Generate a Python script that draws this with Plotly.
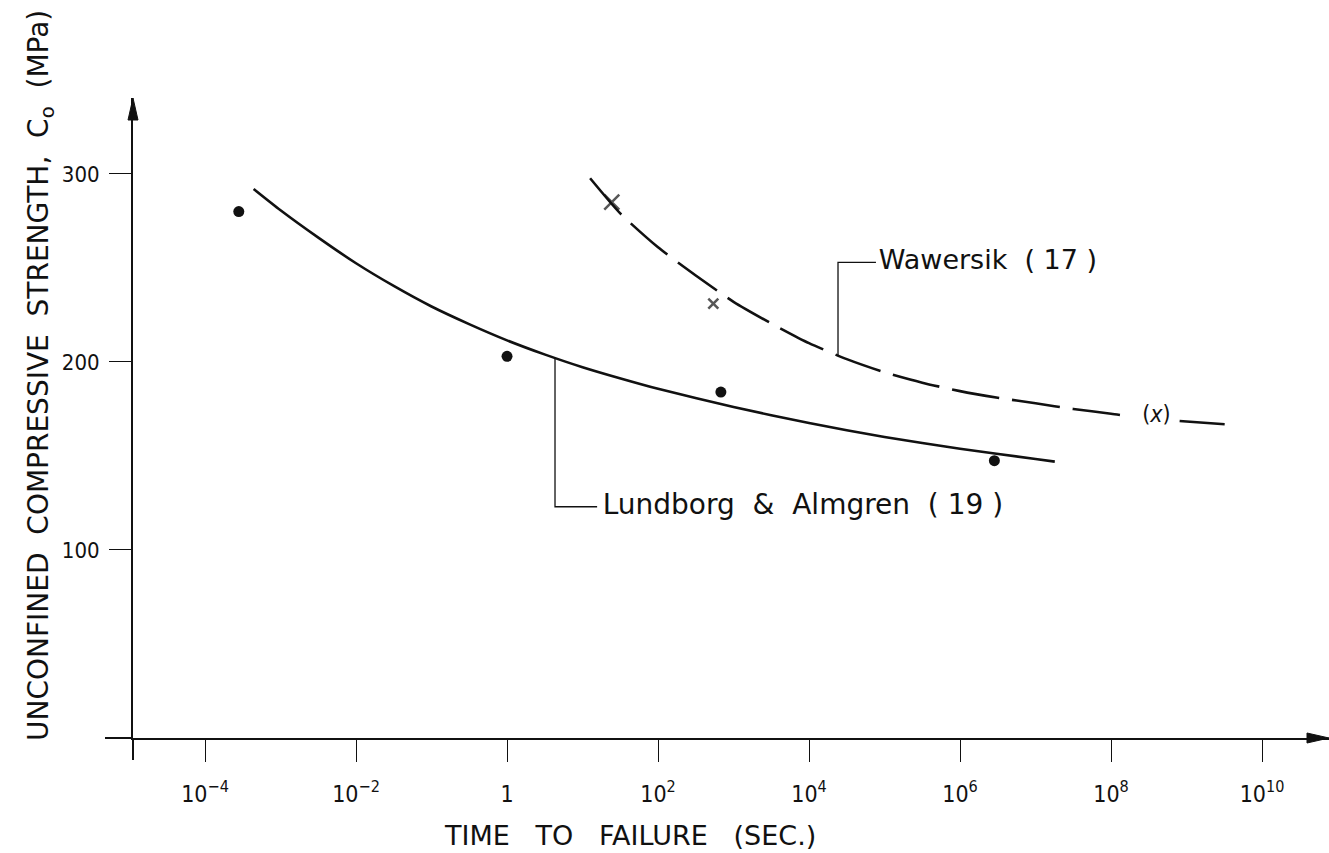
import plotly.graph_objects as go

# Lundborg & Almgren (19): measured points and fitted curve
lund_t = [2.8e-4, 1.0, 680.0, 2.85e6]
lund_c0 = [280, 203, 184, 147.5]
lund_fit_t = [4.4e-4, 1e-3, 3.2e-3, 1e-2, 3.2e-2, 0.1, 0.32, 1.0, 3.2, 10.0, 32.0,
              100.0, 1e3, 1e4, 1e5, 1e6, 1e7, 1.8e7]
lund_fit_c0 = [292, 280.7, 266, 252.5, 240.3, 229.5, 220, 211.5, 203.9, 197.2, 191.2,
               185.7, 176, 167.5, 160.1, 153.8, 148.4, 147]

# Wawersik (17): measured points and dashed trend
waw_t = [24.4, 540.0]
waw_c0 = [285, 231]
waw_sizes = [15, 10]
waw_open_t = [4.0e8]
waw_open_c0 = [171]
waw_fit_t = [12.6, 31.6, 100.0, 316.0, 1e3, 3.16e3, 1e4, 3.16e4, 1e5, 3.16e5, 1e6,
             3.16e6, 1e7, 3.16e7, 1e8, 1.8e8,
             None, 8.1e8, 1e9, 3.2e9]
waw_fit_c0 = [297.7, 279, 261, 246, 232, 220.5, 210, 201.5, 194.5, 189, 184.5,
              181, 178, 175, 172.5, 171,
              None, 168.6, 168.3, 166.9]

# Leader lines and caption anchors
lund_leader_t = [4.32, 4.32, 15.6]
lund_leader_c0 = [202, 123, 123]
waw_leader_t = [2.42e4, 2.42e4, 7.7e4]
waw_leader_c0 = [203.5, 253, 253]
lund_label_t, lund_label_c0 = 18.5, 123
waw_label_t, waw_label_c0 = 8.4e4, 253

x_tickvals = [1e-4, 1e-2, 1, 1e2, 1e4, 1e6, 1e8, 1e10]
x_ticktext = ["10<sup>−4</sup>", "10<sup>−2</sup>", "1", "10<sup>2</sup>", "10<sup>4</sup>",
              "10<sup>6</sup>", "10<sup>8</sup>", "10<sup>10</sup>"]
y_tickvals = [100, 200, 300]

NARROW = "DejaVu Sans Condensed, Liberation Sans Narrow, sans-serif"
WIDE = "DejaVu Sans, Liberation Sans, sans-serif"
INK = "#111111"

fig = go.Figure()

fig.add_trace(go.Scatter(x=lund_fit_t, y=lund_fit_c0, mode="lines",
                         line=dict(color=INK, width=2.6, shape="spline", smoothing=0.6),
                         showlegend=False, hoverinfo="skip"))
fig.add_trace(go.Scatter(x=waw_fit_t, y=waw_fit_c0, mode="lines", connectgaps=False,
                         line=dict(color=INK, width=2.6, dash="48px,13px",
                                   shape="spline", smoothing=0.6),
                         showlegend=False, hoverinfo="skip"))
fig.add_trace(go.Scatter(x=lund_t, y=lund_c0, mode="markers",
                         marker=dict(symbol="circle", size=11, color=INK),
                         showlegend=False, cliponaxis=False))
fig.add_trace(go.Scatter(x=waw_t, y=waw_c0, mode="markers",
                         marker=dict(symbol="x-thin", size=waw_sizes,
                                     line=dict(color=INK, width=2.5)),
                         showlegend=False, cliponaxis=False))
fig.add_trace(go.Scatter(x=waw_open_t, y=waw_open_c0, mode="text",
                         text=["(<i>x</i>)"], textposition="middle center",
                         textfont=dict(family=NARROW, size=23, color=INK),
                         showlegend=False, cliponaxis=False))

for lt, lc in ((lund_leader_t, lund_leader_c0), (waw_leader_t, waw_leader_c0)):
    fig.add_trace(go.Scatter(x=lt, y=lc, mode="lines",
                             line=dict(color=INK, width=1.3),
                             showlegend=False, hoverinfo="skip"))

fig.add_trace(go.Scatter(x=[lund_label_t], y=[lund_label_c0], mode="text",
                         text=["Lundborg  &  Almgren  ( 19 )"], textposition="middle right",
                         textfont=dict(family=WIDE, size=28, color=INK),
                         showlegend=False, cliponaxis=False))
fig.add_trace(go.Scatter(x=[waw_label_t], y=[waw_label_c0], mode="text",
                         text=["Wawersik  ( 17 )"], textposition="middle right",
                         textfont=dict(family=WIDE, size=27, color=INK),
                         showlegend=False, cliponaxis=False))

W, H = 1329, 853
ML, MR, MT, MB = 133, 0, 98, 115
pw, ph = W - ML - MR, H - MT - MB

fig.update_layout(
    width=W, height=H, autosize=False,
    margin=dict(l=ML, r=MR, t=MT, b=MB, pad=0),
    paper_bgcolor="white", plot_bgcolor="white",
    font=dict(family=NARROW, color=INK),
    xaxis=dict(type="log", range=[-4.954, 10.887], showgrid=False, zeroline=False,
               showline=True, linecolor=INK, linewidth=2,
               ticks="outside", ticklen=22, tickwidth=1.4, tickcolor=INK,
               tickvals=x_tickvals, ticktext=x_ticktext,
               tickfont=dict(family=NARROW, size=23, color=INK), ticklabelstandoff=12),
    yaxis=dict(range=[0, 340.4], showgrid=False, zeroline=False,
               showline=True, linecolor=INK, linewidth=2,
               ticks="outside", ticklen=22, tickwidth=1.4, tickcolor=INK,
               tickvals=y_tickvals,
               tickfont=dict(family=NARROW, size=22, color=INK), ticklabelstandoff=5),
    shapes=[
        # axis lines continuing past the origin
        dict(type="line", xref="paper", yref="paper", x0=(105 - ML) / pw, x1=0, y0=0, y1=0,
             line=dict(color=INK, width=2)),
        dict(type="line", xref="paper", yref="paper", x0=0, x1=0, y0=-22 / ph, y1=0,
             line=dict(color=INK, width=2)),
        # arrowheads
        dict(type="path", xref="paper", yref="paper",
             path=f"M 0 1 L {-5 / pw} {1 - 22 / ph} L {5 / pw} {1 - 22 / ph} Z",
             fillcolor=INK, line=dict(color=INK, width=1)),
        dict(type="path", xref="paper", yref="paper",
             path=f"M 1 0 L {1 - 22 / pw} {5 / ph} L {1 - 22 / pw} {-5 / ph} Z",
             fillcolor=INK, line=dict(color=INK, width=1)),
    ],
    annotations=[
        dict(text="TIME   TO   FAILURE   (SEC.)", xref="paper", yref="paper",
             x=(630 - ML) / pw, y=-(835 - (H - MB)) / ph, showarrow=False,
             xanchor="center", yanchor="middle",
             font=dict(family=WIDE, size=27, color=INK)),
        dict(text="UNCONFINED  COMPRESSIVE  STRENGTH,  C<sub>o</sub>  (MPa)",
             xref="paper", yref="paper",
             x=-(ML - 40) / pw, y=(H - MB - 376) / ph, showarrow=False,
             textangle=-90, xanchor="center", yanchor="middle",
             font=dict(family=WIDE, size=28, color=INK)),
    ],
)

fig.write_html("out.html")
